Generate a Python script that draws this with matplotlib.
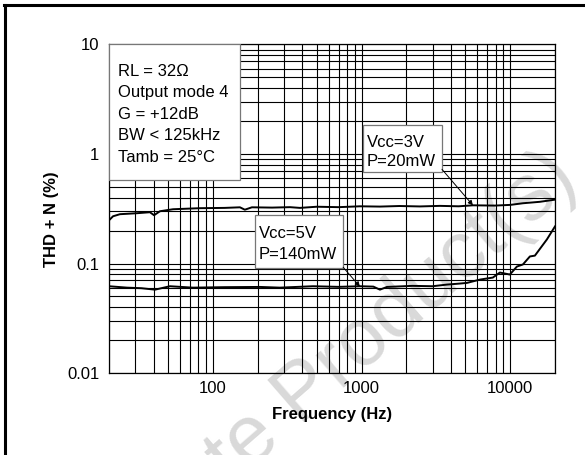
import numpy as np
import matplotlib
matplotlib.use("Agg")
import matplotlib.pyplot as plt
from matplotlib.patches import Rectangle
from matplotlib.ticker import LogLocator, FixedLocator, NullFormatter
from matplotlib.lines import Line2D

plt.rcParams["font.family"] = ["Liberation Sans", "DejaVu Sans"]

# --- Daten ---
freq_3v = [20, 21.3, 23.7, 30.9, 37.7, 40.2, 44.0, 53.9, 81.8, 120, 152, 164, 183,
           250, 330, 385, 500, 700, 975, 1329, 1800, 2467, 3363, 4500, 5611,
           7885, 10000, 12170, 15830, 20000]
thd_3v = [0.248, 0.270, 0.282, 0.288, 0.294, 0.276, 0.300, 0.313, 0.320, 0.322,
          0.326, 0.310, 0.326, 0.324, 0.327, 0.322, 0.330, 0.327, 0.333, 0.331,
          0.335, 0.332, 0.336, 0.333, 0.340, 0.338, 0.343, 0.355, 0.366, 0.383]

freq_5v = [20, 26.4, 33, 40.8, 51.4, 73.4, 120, 207, 282, 471, 700, 975, 1200,
           1329, 1482, 2200, 3000, 3750, 4583, 5112, 6255, 7640, 8515, 9940,
           11090, 12170, 13560, 14650, 17650, 20000]
thd_5v = [0.0620, 0.0602, 0.0595, 0.0577, 0.0620, 0.0602, 0.0608, 0.0611, 0.0602,
          0.0620, 0.0612, 0.0620, 0.0615, 0.0577, 0.0611, 0.0625, 0.0620, 0.0642,
          0.0656, 0.0665, 0.0713, 0.0744, 0.0827, 0.0793, 0.0938, 0.098, 0.116,
          0.118, 0.166, 0.218]

info_lines = ["RL = 32\u03a9", "Output mode 4", "G = +12dB", "BW < 125kHz",
              "Tamb = 25\u00b0C"]
label_3v = "Vcc=3V\nP=20mW"
label_5v = "Vcc=5V\nP=140mW"
point_3v = (5611, 0.340)
point_5v = (975, 0.0615)

yticks = [0.01, 0.1, 1, 10]
ytick_labels = ["0.01", "0.1", "1", "10"]
xticks = [100, 1000, 10000]
xtick_labels = ["100", "1000", "10000"]

FS = 12


def main():
    fig = plt.figure(figsize=(5.85, 4.55), dpi=100)

    # Wasserzeichen
    fig.text(0.068, -0.433, "Obsolete Product(s)", fontsize=58, color="#d9d9d9",
             rotation=41, rotation_mode="anchor", ha="left", va="baseline",
             zorder=-1)

    # Rahmen oben und links
    fig.add_artist(Line2D([0.007, 1.0], [0.989, 0.989], color="black", lw=2.2,
                          transform=fig.transFigure))
    fig.add_artist(Line2D([0.008, 0.008], [0.0, 0.989], color="black", lw=2.2,
                          transform=fig.transFigure))

    ax = fig.add_axes([0.1863, 0.1802, 0.7624, 0.722])
    ax.set_facecolor("none")
    ax.set_xscale("log")
    ax.set_yscale("log")
    ax.set_xlim(20, 20000)
    ax.set_ylim(0.01, 10)

    ax.plot(freq_3v, thd_3v, color="black", lw=1.4, zorder=3)
    ax.plot(freq_5v, thd_5v, color="black", lw=1.4, zorder=3)

    ax.xaxis.set_major_locator(FixedLocator(xticks))
    ax.set_xticklabels(xtick_labels)
    ax.xaxis.set_minor_locator(LogLocator(base=10, subs=np.arange(2, 10)))
    ax.xaxis.set_minor_formatter(NullFormatter())
    ax.yaxis.set_major_locator(FixedLocator(yticks))
    ax.set_yticklabels(ytick_labels)
    ax.yaxis.set_minor_locator(LogLocator(base=10, subs=np.arange(2, 10)))
    ax.yaxis.set_minor_formatter(NullFormatter())

    ax.grid(True, which="both", color="black", lw=0.8)
    ax.tick_params(which="both", length=0, labelsize=FS)
    ax.tick_params(axis="x", pad=6)
    ax.tick_params(axis="y", pad=7)
    for s in ax.spines.values():
        s.set_color("black")
        s.set_linewidth(0.9)

    ax.set_xlabel("Frequency (Hz)", fontsize=FS, fontweight="bold", labelpad=8)
    ax.set_ylabel("THD + N (%)", fontsize=FS, fontweight="bold")
    ax.yaxis.set_label_coords(-0.112, 0.469)

    # Infobox
    ax.add_patch(Rectangle((0.0, 0.5875), 0.294, 0.4125, transform=ax.transAxes,
                           facecolor="white", edgecolor="#777777", lw=0.9,
                           zorder=4))
    for i, line in enumerate(info_lines):
        ax.text(0.021, 0.918 - i * 0.0655, line, transform=ax.transAxes,
                fontsize=FS, va="center", ha="left", zorder=5)

    # Beschriftungen mit Pfeilen
    ax.add_patch(Rectangle((0.5695, 0.612), 0.177, 0.143, transform=ax.transAxes,
                           facecolor="white", edgecolor="#777777", lw=0.9,
                           zorder=4))
    ax.text(0.578, 0.672, label_3v, transform=ax.transAxes, fontsize=FS,
            va="center", ha="left", linespacing=1.35, zorder=5)
    ax.annotate("", xy=point_3v, xycoords="data", xytext=(0.7466, 0.62),
                textcoords="axes fraction",
                arrowprops=dict(arrowstyle="-|>", color="black", lw=0.7,
                                mutation_scale=7, shrinkA=0, shrinkB=0),
                zorder=5)

    ax.add_patch(Rectangle((0.327, 0.320), 0.198, 0.161, transform=ax.transAxes,
                           facecolor="white", edgecolor="#777777", lw=0.9,
                           zorder=4))
    ax.text(0.336, 0.392, label_5v, transform=ax.transAxes, fontsize=FS,
            va="center", ha="left", linespacing=1.5, zorder=5)
    ax.annotate("", xy=point_5v, xycoords="data", xytext=(0.525, 0.322),
                textcoords="axes fraction",
                arrowprops=dict(arrowstyle="-|>", color="black", lw=0.7,
                                mutation_scale=7, shrinkA=0, shrinkB=0),
                zorder=5)

    fig.savefig("out.png", dpi=100)
    plt.close(fig)


if __name__ == "__main__":
    main()
